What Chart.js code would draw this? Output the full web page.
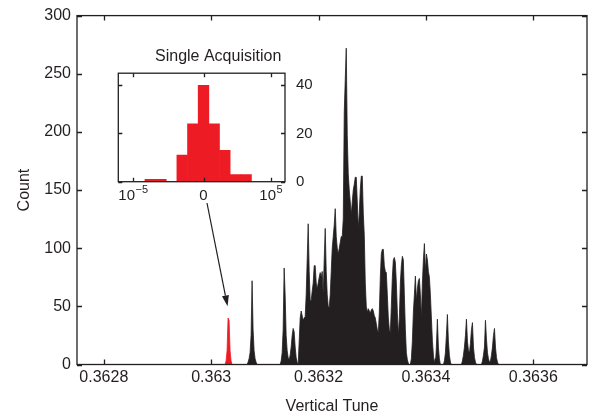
<!DOCTYPE html>
<html>
<head>
<meta charset="utf-8">
<script src="https://cdn.jsdelivr.net/npm/chart.js@4"></script>
<style>
html,body{margin:0;padding:0;background:#fff;}
#wrap{position:relative;width:595px;height:418px;}
#main{position:absolute;left:0;top:0;}
#inset{position:absolute;left:86px;top:40px;}
</style>
</head>
<body>
<div id="wrap">
<canvas id="main" width="595" height="418"></canvas>
<canvas id="inset" width="232" height="165"></canvas>
</div>
<script>
// histogram bins (tune units)
const binWidth = 1.866e-6;
const xTicks = [0.3628, 0.363, 0.3632, 0.3634, 0.3636];

// single acquisition (red) in main plot
const redStart = 0.3630258;
const redCounts = [0, 3, 12, 40, 38, 12, 3, 0];

// black histogram, in clusters
const peakAStart = 0.3630668;
const peakACounts = [0, 2, 5, 10, 25, 72, 30, 12, 5, 2, 0];
const mainStart = 0.3631284;
const mainCounts = [
  0, 3, 10, 30, 83, 60, 25, 12, 6, 4, 8, 15, 25, 31, 28, 15, 6, 2,
  0, 20, 40, 46, 42, 38, 40, 41, 60, 90, 121, 80,
  55, 55, 63, 70, 85, 85, 70, 65, 70, 75, 79, 75,
  80, 60, 90, 117, 80, 60, 50, 49, 60, 80, 100, 110,
  120, 134, 110, 100, 95, 100, 105, 110, 110, 125, 217, 245,
  272, 197, 164, 150, 140, 129, 140, 150, 155, 161, 161, 140,
  117, 130, 150, 162, 162, 130, 111, 70, 50, 45, 48, 46,
  44, 47, 48, 46, 42, 40, 35, 30, 27, 45, 75, 95,
  99, 99, 85, 80, 79, 60, 40, 30, 27, 50, 75, 90,
  92, 88, 70, 45, 25, 40, 70, 85, 93, 90, 60, 30,
  10, 4, 1, 0, 0, 5, 20, 45, 60, 76, 55, 65,
  72, 74, 60, 40, 70, 90, 104, 80, 95, 90, 80, 75,
  60, 40, 20, 8, 2, 0
];
const tailAStart = 0.3634157;
const tailACounts = [0, 5, 15, 39, 15, 5, 0];
const tailBStart = 0.3634325;
const tailBCounts = [0, 3, 10, 25, 43, 20, 8, 2, 0];
const tailCStart = 0.3634661;
const tailCCounts = [0, 3, 8, 15, 25, 39, 20, 12, 10, 18, 30, 36, 15, 6, 2, 0];
const tailDStart = 0.3635034;
const tailDCounts = [0, 3, 8, 15, 38, 22, 10, 5, 2, 3, 8, 15, 25, 31, 15, 6, 2, 0];

// inset: single acquisition histogram
const insetBins = [-5, -4, -2, -1, 0, 1, 2, 3, 4];
const insetCounts = [1, 1, 11, 24, 40, 24, 13, 3, 3];
const insetTickPos = [-6.6, 0, 6.33];
const insetTickBase = ['10', '0', '10'];
const insetTickExp = ['\u22125', '', '5'];

const ink = '#231f20';
const red = '#ed1c24';
const fam = '"Liberation Sans", Arial, Helvetica, sans-serif';
Chart.defaults.font.family = fam;
Chart.defaults.color = ink;

function toPoints(start, counts) {
  return counts.map((c, i) => ({ x: start + i * binWidth, y: c }));
}

const blackPts = [].concat(
  toPoints(peakAStart, peakACounts),
  toPoints(mainStart, mainCounts),
  toPoints(tailAStart, tailACounts),
  toPoints(tailBStart, tailBCounts),
  toPoints(tailCStart, tailCCounts),
  toPoints(tailDStart, tailDCounts)
).sort((a, b) => a.x - b.x);
const redPts = toPoints(redStart, redCounts);

// box + inward tick marks
const frameTicks = {
  id: 'frameTicks',
  afterDraw(chart, args, opts) {
    const { ctx, chartArea: a, scales } = chart;
    const L = opts.len || 5;
    ctx.save();
    ctx.strokeStyle = ink;
    ctx.lineWidth = opts.width || 1.3;
    ctx.beginPath();
    scales.x.ticks.forEach(t => {
      const px = Math.round(scales.x.getPixelForValue(t.value)) + 0.5;
      ctx.moveTo(px, a.bottom); ctx.lineTo(px, a.bottom - L);
      ctx.moveTo(px, a.top); ctx.lineTo(px, a.top + L);
    });
    scales.y.ticks.forEach(t => {
      const py = Math.round(scales.y.getPixelForValue(t.value)) + 0.5;
      ctx.moveTo(a.left, py); ctx.lineTo(a.left + L, py);
      ctx.moveTo(a.right, py); ctx.lineTo(a.right - L, py);
    });
    ctx.stroke();
    ctx.strokeRect(a.left, a.top, a.right - a.left, a.bottom - a.top);
    ctx.restore();
  }
};

// inset x labels with raised exponents (10^-5, 0, 10^5)
const expLabels = {
  id: 'expLabels',
  afterDraw(chart) {
    const { ctx, chartArea: a, scales } = chart;
    ctx.save();
    ctx.fillStyle = ink;
    ctx.textBaseline = 'alphabetic';
    ctx.textAlign = 'left';
    const baseY = a.bottom + 18;
    insetTickPos.forEach((v, i) => {
      const px = scales.x.getPixelForValue(v);
      ctx.font = '15px ' + fam;
      const wb = ctx.measureText(insetTickBase[i]).width;
      ctx.font = '11px ' + fam;
      const we = insetTickExp[i] ? ctx.measureText(insetTickExp[i]).width + 0.5 : 0;
      const x0 = px - (wb + we) / 2;
      ctx.font = '15px ' + fam;
      ctx.fillText(insetTickBase[i], x0, baseY);
      if (insetTickExp[i]) {
        ctx.font = '11px ' + fam;
        ctx.fillText(insetTickExp[i], x0 + wb + 0.5, baseY - 6.5);
      }
    });
    ctx.restore();
  }
};

// arrow from under the inset down to the red peak
const arrowPlugin = {
  id: 'arrowPlugin',
  afterDraw(chart) {
    const { ctx, scales } = chart;
    const peakX = redStart + 3 * binWidth;
    const tx = scales.x.getPixelForValue(peakX) - 0.5;
    const ty = scales.y.getPixelForValue(50);
    const sx = 207, sy = 203;
    const ang = Math.atan2(ty - sy, tx - sx);
    const hl = 11, hw = 3.5;
    const bx = tx - hl * Math.cos(ang), by = ty - hl * Math.sin(ang);
    ctx.save();
    ctx.strokeStyle = ink; ctx.fillStyle = ink; ctx.lineWidth = 1.2;
    ctx.beginPath(); ctx.moveTo(sx, sy); ctx.lineTo(bx, by); ctx.stroke();
    ctx.beginPath();
    ctx.moveTo(tx, ty);
    ctx.lineTo(bx + hw * Math.sin(ang), by - hw * Math.cos(ang));
    ctx.lineTo(bx - hw * Math.sin(ang), by + hw * Math.cos(ang));
    ctx.closePath(); ctx.fill();
    ctx.restore();
  }
};

new Chart(document.getElementById('main'), {
  type: 'line',
  data: {
    datasets: [
      { data: blackPts, borderColor: ink, backgroundColor: ink, borderWidth: 0.8, fill: 'origin', pointRadius: 0, tension: 0 },
      { data: redPts, borderColor: red, backgroundColor: red, borderWidth: 0.8, fill: 'origin', pointRadius: 0, tension: 0 }
    ]
  },
  options: {
    responsive: false,
    animation: false,
    layout: { padding: { left: 0, right: 8, top: 12, bottom: 0 } },
    plugins: { legend: { display: false }, tooltip: { enabled: false }, frameTicks: { len: 5, width: 1.3 } },
    scales: {
      x: {
        type: 'linear', min: 0.36275, max: 0.3637,
        afterBuildTicks: s => { s.ticks = xTicks.map(v => ({ value: v })); },
        ticks: { callback: v => String(+v.toFixed(4)), font: { size: 16 }, color: ink, padding: 3, maxRotation: 0, autoSkip: false },
        grid: { display: false, drawTicks: false, tickLength: 0 },
        border: { display: false },
        title: { display: true, text: 'Vertical Tune', font: { size: 16 }, color: ink, padding: { top: 0, bottom: 2 } },
        afterFit: s => { s.height = 53.5; }
      },
      y: {
        min: 0, max: 300,
        ticks: { stepSize: 50, font: { size: 16 }, color: ink, padding: 6 },
        grid: { display: false, drawTicks: false, tickLength: 0 },
        border: { display: false },
        title: { display: true, text: 'Count', font: { size: 16 }, color: ink, padding: { top: 15, bottom: 0 } },
        afterFit: s => { s.width = 77; }
      }
    }
  },
  plugins: [frameTicks, arrowPlugin]
});

new Chart(document.getElementById('inset'), {
  type: 'bar',
  data: {
    datasets: [{
      data: insetBins.map((b, i) => ({ x: b, y: insetCounts[i] })),
      backgroundColor: red, borderWidth: 0, barPercentage: 1, categoryPercentage: 1
    }]
  },
  options: {
    responsive: false,
    animation: false,
    layout: { padding: { left: 32.3, right: 0, top: 0, bottom: 0 } },
    plugins: {
      legend: { display: false }, tooltip: { enabled: false },
      title: { display: true, text: 'Single Acquisition', font: { size: 16, weight: 'normal' }, color: ink, padding: { top: 7, bottom: 7 } },
      frameTicks: { len: 4, width: 1.3 }
    },
    scales: {
      x: {
        type: 'linear', min: -8, max: 7.65, offset: false,
        afterBuildTicks: s => { s.ticks = insetTickPos.map(v => ({ value: v })); },
        ticks: { display: false },
        grid: { display: false, drawTicks: false, tickLength: 0, offset: false },
        border: { display: false },
        afterFit: s => { s.height = 23.3; }
      },
      y: {
        position: 'right', min: 0, max: 45,
        afterBuildTicks: s => { s.ticks = [0, 20, 40].map(v => ({ value: v })); },
        ticks: { font: { size: 15 }, color: ink, padding: 11 },
        grid: { display: false, drawTicks: false, tickLength: 0 },
        border: { display: false },
        afterFit: s => { s.width = 33; }
      }
    }
  },
  plugins: [frameTicks, expLabels]
});
</script>
</body>
</html>
